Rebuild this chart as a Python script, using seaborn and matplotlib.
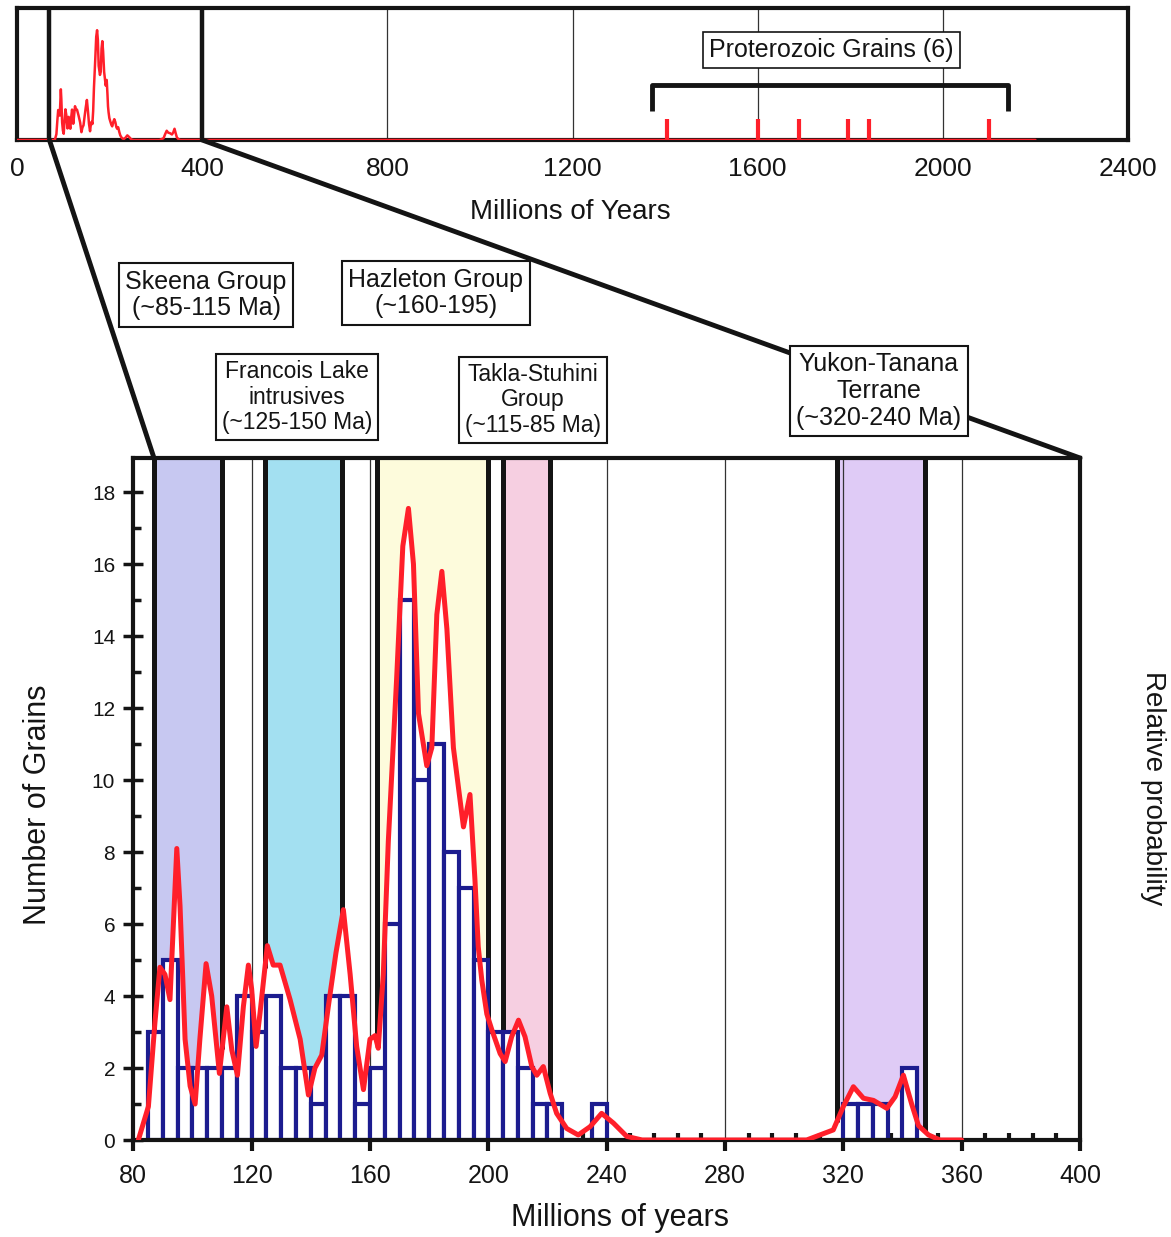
import numpy as np
import matplotlib
matplotlib.use("Agg")
import matplotlib.pyplot as plt
from matplotlib.patches import ConnectionPatch
from matplotlib.ticker import MultipleLocator
import seaborn as sns

# grain counts per 5 Ma bin (left edge of bin)
bin_left_main = [85, 90, 95, 100, 105, 110, 115, 120, 125, 130,
                 135, 140, 145, 150, 155, 160, 165, 170, 175, 180,
                 185, 190, 195, 200, 205, 210, 215, 220, 225, 230, 235]
counts_main = [3, 5, 2, 2, 2, 2, 4, 3, 4, 2,
               2, 1, 4, 4, 1, 2, 6, 15, 10, 11,
               8, 7, 5, 3, 3, 2, 1, 1, 0, 0, 1]
bin_left_yt = [320, 325, 330, 335, 340]
counts_yt = [1, 1, 1, 0, 2]
bin_width = 5

# probability curve (in grain-count units)
curve_age = [81.7, 85.1, 87.3, 89.0, 90.7, 92.4, 94.7, 95.8, 97.5, 99.2,
             100.9, 102.5, 104.6, 106.5, 109.1, 111.6, 113.3, 115.2, 117.2, 118.9,
             120.0, 121.5, 122.8, 125.3, 127.3, 129.6, 133.0, 136.4, 139.2, 141.4,
             143.7, 145.9, 148.5, 151.0, 153.3, 155.5, 157.8, 160.0, 161.7, 162.8,
             164.5, 166.2, 169.0, 171.1, 173.0, 174.7, 176.4, 179.2, 180.9, 182.6,
             184.3, 186.0, 188.2, 191.6, 193.8, 195.5, 196.6, 197.8, 199.5, 201.2,
             204.0, 205.7, 207.9, 210.2, 212.4, 214.7, 216.4, 218.6, 220.9, 223.1,
             226.5, 230.4, 234.4, 238.3, 242.3, 246.8, 252.0, 307.6, 316.6, 320.0,
             323.4, 326.8, 330.2, 334.7, 337.5, 340.3, 343.1, 345.4, 348.8, 352.7, 360.0]
curve_val = [0.0, 0.93, 3.25, 4.8, 4.6, 3.9, 8.1, 6.5, 2.8, 1.5,
             1.0, 2.8, 4.9, 4.0, 1.85, 3.7, 2.5, 1.8, 3.7, 4.86,
             4.2, 2.6, 3.5, 5.4, 4.86, 4.86, 3.9, 2.8, 1.25, 2.0,
             2.36, 3.7, 5.2, 6.4, 4.6, 2.6, 1.4, 2.8, 2.9, 2.55,
             4.6, 8.3, 12.8, 16.5, 17.55, 16.0, 11.85, 10.4, 10.9, 14.6,
             15.8, 14.2, 10.9, 8.7, 9.6, 7.2, 5.37, 4.44, 3.5, 3.06,
             2.4, 2.18, 2.87, 3.33, 2.87, 2.04, 1.8, 2.04, 1.3, 0.74,
             0.32, 0.14, 0.37, 0.74, 0.47, 0.1, 0.0, 0.0, 0.28, 0.93,
             1.48, 1.16, 1.1, 0.88, 1.2, 1.8, 1.0, 0.4, 0.14, 0.0, 0.0]

proterozoic_ages = [1405, 1600, 1690, 1795, 1840, 2100]

# shaded source-terrane bands (Ma)
band_lo = [87.0, 124.5, 162.3, 205.0, 317.8]
band_hi = [110.0, 150.5, 200.0, 221.0, 347.6]
band_colors = ["#c7c8f1", "#a3e0f1", "#fdfbdc", "#f6cfe1", "#dfcbf6"]
band_labels = ["Skeena Group\n(~85-115 Ma)",
               "Francois Lake\nintrusives\n(~125-150 Ma)",
               "Hazleton Group\n(~160-195)",
               "Takla-Stuhini\nGroup\n(~115-85 Ma)",
               "Yukon-Tanana\nTerrane\n(~320-240 Ma)"]

navy = "#1c1c8f"
red = "#ff1f2a"
black = "#141414"

sns.set_style("white")
plt.rcParams["font.family"] = ["Liberation Sans", "DejaVu Sans"]
plt.rcParams["text.color"] = black
plt.rcParams["xtick.color"] = black
plt.rcParams["ytick.color"] = black
plt.rcParams["axes.labelcolor"] = black

W, H = 1171, 1237
fig = plt.figure(figsize=(W / 100, H / 100), dpi=100)


def fx(px):
    return px / W


def fy(py):
    return 1 - py / H


# ---- lower panel
ax = fig.add_axes([fx(133.3), fy(1140), fx(1080) - fx(133.3), fy(458) - fy(1140)])
ytop = 18.95

for x in range(120, 400, 40):
    ax.axvline(x, color="#333333", lw=0.9, zorder=1.5)

for lo, hi, c in zip(band_lo, band_hi, band_colors):
    xs = np.linspace(lo, hi, 300)
    ax.fill_between(xs, np.interp(xs, curve_age, curve_val), ytop, color=c, lw=0, zorder=1)
    for e in (lo, hi):
        ax.plot([e, e], [np.interp(e, curve_age, curve_val), ytop], color=black, lw=3.6,
                solid_capstyle="butt", zorder=2)

for left, cnt in ((bin_left_main, counts_main), (bin_left_yt, counts_yt)):
    edges = [float(b) for b in left] + [float(left[-1] + bin_width)]
    centers = [b + bin_width / 2 for b in left]
    sns.histplot(x=centers, weights=cnt, bins=edges, ax=ax, facecolor="white",
                 edgecolor=navy, linewidth=3, alpha=1, zorder=3)

sns.lineplot(x=curve_age, y=curve_val, ax=ax, color=red, lw=3.6, sort=False,
             zorder=6, solid_joinstyle="round", solid_capstyle="round")

ax.set_xlim(80, 400)
ax.set_ylim(0, ytop)
ax.set_xticks(range(80, 401, 40))
ax.xaxis.set_minor_locator(MultipleLocator(8))
ax.set_yticks(range(0, 19, 2))
ax.yaxis.set_minor_locator(MultipleLocator(1))
ax.tick_params(axis="x", which="major", bottom=True, direction="out", length=8, width=3,
               labelsize=18, pad=9)
ax.tick_params(axis="x", which="minor", bottom=True, direction="in", length=5, width=3)
ax.tick_params(axis="y", which="major", left=True, direction="inout", length=14, width=2.5,
               labelsize=15, pad=6)
ax.tick_params(axis="y", which="minor", left=True, direction="in", length=6, width=2.5)
ax.set_xlabel("")
ax.set_ylabel("")
for s in ax.spines.values():
    s.set_linewidth(3)
    s.set_color(black)
    s.set_zorder(5)

# ---- top overview panel
ax_top = fig.add_axes([fx(17), fy(140), fx(1128) - fx(17), fy(8) - fy(140)])
top_ymax = 21.1
for x in range(800, 2400, 400):
    ax_top.axvline(x, color="#333333", lw=0.9, zorder=1)
ax_top.axvline(70, color=black, lw=3.2, zorder=2)
ax_top.axvline(400, color=black, lw=3.2, zorder=2)
sns.lineplot(x=[0.0] + curve_age + [2200.0], y=[0.0] + curve_val + [0.0], ax=ax_top,
             color=red, lw=1.8, sort=False, zorder=3)
ax_top.vlines(proterozoic_ages, 0, 0.16 * top_ymax, color=red, lw=3, zorder=3)
ax_top.plot([1372, 1372, 2141, 2141],
            [0.22 * top_ymax, 0.42 * top_ymax, 0.42 * top_ymax, 0.22 * top_ymax],
            color=black, lw=3.5, solid_capstyle="butt", zorder=3)
ax_top.text(1760, 0.68 * top_ymax, "Proterozoic Grains (6)", ha="center", va="center",
            fontsize=18, zorder=4,
            bbox=dict(boxstyle="square,pad=0.25", fc="white", ec=black, lw=1.2))
ax_top.set_xlim(0, 2400)
ax_top.set_ylim(0, top_ymax)
ax_top.set_xticks(range(0, 2401, 400))
ax_top.set_yticks([])
ax_top.tick_params(axis="x", length=0, labelsize=19, pad=12)
ax_top.set_xlabel("")
ax_top.set_ylabel("")
for s in ax_top.spines.values():
    s.set_linewidth(3)
    s.set_color(black)

# zoom connectors
for xa, xb in ((70, 87), (400, 400)):
    con = ConnectionPatch(xyA=(xa, 0), coordsA=ax_top.transData,
                          xyB=(xb, ytop), coordsB=ax.transData,
                          color=black, lw=3.5, zorder=1)
    fig.add_artist(con)

# band labels
label_pos = [(206, 295, 18), (297, 397, 16.5), (436, 293, 18), (533, 400, 16.5), (879, 391, 18)]
for txt, (px, py, fs) in zip(band_labels, label_pos):
    fig.text(fx(px), fy(py), txt, ha="center", va="center", fontsize=fs, linespacing=1.15,
             zorder=6, bbox=dict(boxstyle="square,pad=0.25", fc="white", ec=black, lw=1.5))

fig.text(fx(570), fy(212), "Millions of Years", ha="center", va="center", fontsize=20)
fig.text(fx(620), fy(1218), "Millions of years", ha="center", va="center", fontsize=22)
fig.text(fx(38), fy(805), "Number of Grains", ha="center", va="center", fontsize=22,
         rotation=90)
fig.text(fx(1153), fy(788), "Relative probability", ha="center", va="center", fontsize=20,
         rotation=270)

fig.savefig("out.png", dpi=100)
